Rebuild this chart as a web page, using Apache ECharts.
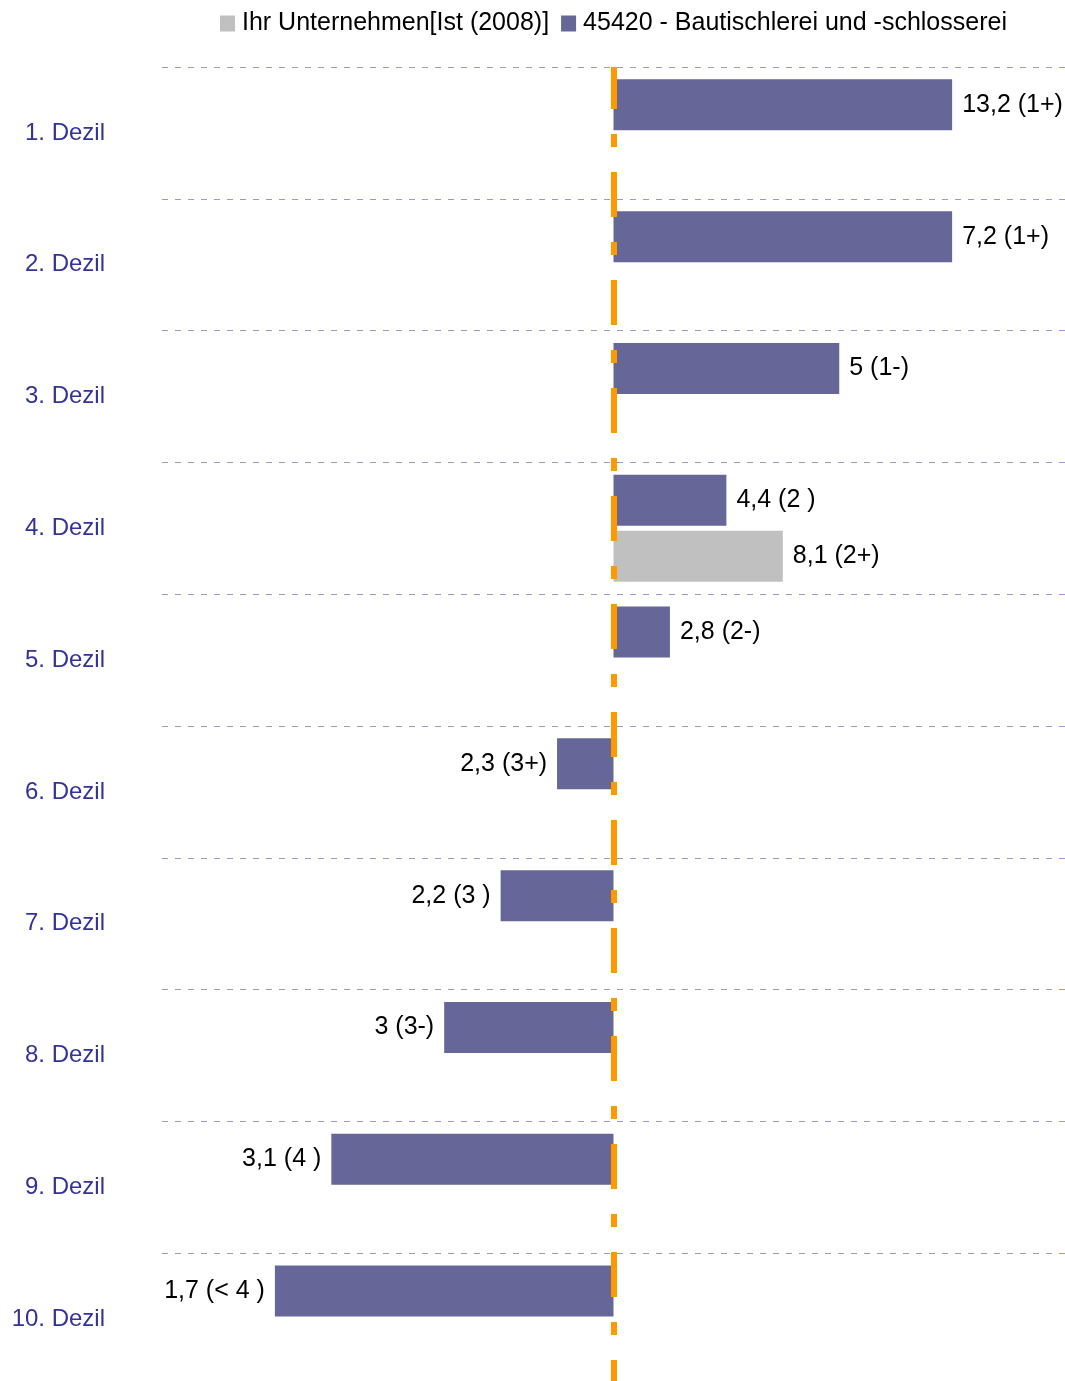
<!DOCTYPE html>
<html>
<head>
<meta charset="utf-8">
<title>Dezile</title>
<script src="https://cdn.jsdelivr.net/npm/echarts@6/dist/echarts.min.js"></script>
<style>
  html, body { margin: 0; padding: 0; background: #fff; }
  #chart { width: 1065px; height: 1381px; }
</style>
</head>
<body>
<div id="chart"></div>
<script>
var categories = ['1. Dezil', '2. Dezil', '3. Dezil', '4. Dezil', '5. Dezil', '6. Dezil', '7. Dezil', '8. Dezil', '9. Dezil', '10. Dezil']

// Branche: Kennzahl, Note und Position auf der Notenskala (1+ = 6 ... < 4 = -6)
var brancheValues = [13.2, 7.2, 5, 4.4, 2.8, 2.3, 2.2, 3, 3.1, 1.7]
var brancheGrades = ['1+', '1+', '1-', '2 ', '2-', '3+', '3 ', '3-', '4 ', '< 4 ']
var brancheScore = [6, 6, 4, 2, 1, -1, -2, -3, -5, -6]

// eigenes Unternehmen, nur im 4. Dezil
var firmaValues = [null, null, null, 8.1, null, null, null, null, null, null]
var firmaGrades = [null, null, null, '2+', null, null, null, null, null, null]
var firmaScore = [null, null, null, 3, null, null, null, null, null, null]

var nameFirma = 'Ihr Unternehmen[Ist (2008)]'
var nameBranche = '45420 - Bautischlerei und -schlosserei'

var font = '"Liberation Sans", Arial, sans-serif'

function fmt(v) {
  return String(v).replace('.', ',')
}

function toData(scores) {
  return scores.map(function(s) {
    if (s === null) return null
    return { value: s, label: { position: s >= 0 ? 'right' : 'left' } }
  })
}

var chart = echarts.init(document.getElementById('chart'))
chart.setOption({
  animation: false,
  legend: {
    data: [nameFirma, nameBranche],
    left: 215,
    top: 6,
    itemWidth: 15,
    itemHeight: 16,
    itemGap: 12,
    icon: 'rect',
    textStyle: { fontSize: 25, color: '#000', fontFamily: font, padding: [0, 0, 0, 2] }
  },
  grid: {
    left: 162,
    right: 0,
    top: 67,
    height: 1318,
    containLabel: false,
    outerBoundsMode: 'none'
  },
  xAxis: {
    type: 'value',
    min: -8,
    max: 8,
    show: false
  },
  yAxis: {
    type: 'category',
    inverse: true,
    data: categories,
    axisLine: { show: false },
    axisTick: { show: false },
    axisLabel: {
      interval: 0,
      margin: 57,
      fontSize: 24,
      color: '#333399',
      fontFamily: font
    },
    splitLine: {
      show: true,
      interval: 0,
      lineStyle: { color: '#9999CC', width: 1, type: [6, 7] }
    }
  },
  series: [
    {
      name: nameBranche,
      type: 'bar',
      barWidth: 51,
      barGap: '10%',
      itemStyle: { color: '#666699' },
      data: toData(brancheScore),
      label: {
        show: true,
        distance: 10,
        fontSize: 25,
        color: '#000',
        fontFamily: font,
        formatter: function(p) {
          return fmt(brancheValues[p.dataIndex]) + ' (' + brancheGrades[p.dataIndex] + ')'
        }
      },
      markLine: {
        silent: true,
        symbol: 'none',
        label: { show: false },
        lineStyle: { color: '#FF9900', width: 6, type: [45, 25, 13, 25], dashOffset: 3 },
        data: [{ xAxis: 0 }]
      }
    },
    {
      name: nameFirma,
      type: 'bar',
      barWidth: 51,
      barGap: '10%',
      itemStyle: { color: '#C0C0C0' },
      data: toData(firmaScore),
      label: {
        show: true,
        distance: 10,
        fontSize: 25,
        color: '#000',
        fontFamily: font,
        formatter: function(p) {
          return fmt(firmaValues[p.dataIndex]) + ' (' + firmaGrades[p.dataIndex] + ')'
        }
      }
    }
  ]
})
</script>
</body>
</html>
